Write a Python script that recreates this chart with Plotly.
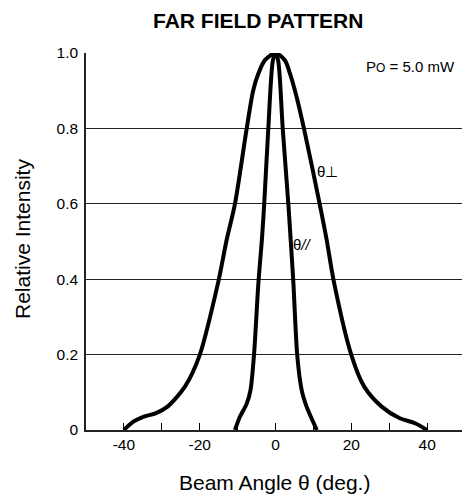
import plotly.graph_objects as go

# Data
perp_angle = [-40, -37.5, -34.9, -31.5, -28.5, -23.9, -20.1, -15.1, -12.9, -10.7, -7.6, -5.9, -4.5, -2.8,
              0, 2.5, 3.8, 5.4, 7.5, 11.7, 13.5, 15.4, 20.1, 23.4, 28.0, 32.8, 36.8, 40]
perp_int = [0, 0.022, 0.035, 0.045, 0.062, 0.115, 0.196, 0.393, 0.504, 0.6, 0.8, 0.9, 0.946, 0.981,
            1.0, 0.98, 0.946, 0.89, 0.8, 0.597, 0.504, 0.393, 0.196, 0.115, 0.062, 0.031, 0.018, 0]

para_angle = [-10.7, -9.4, -7.6, -6.6, -5.7, -4.5, -3.6, -3.0, -1.9, -0.7, 0, 0.7, 1.9, 3.4, 4.0, 4.7,
              5.75, 6.9, 8.2, 9.5, 10.9]
para_int = [0, 0.035, 0.07, 0.106, 0.196, 0.393, 0.504, 0.597, 0.8, 0.98, 1.0, 0.98, 0.8, 0.597, 0.504,
            0.393, 0.196, 0.106, 0.062, 0.031, 0]

x_tickvals = [-40, -30, -20, -10, 0, 10, 20, 30, 40]
x_ticktext = ["-40", "", "-20", "", "0", "", "20", "", "40"]
y_tickvals = [0, 0.2, 0.4, 0.6, 0.8, 1.0]
y_ticktext = ["0", "0.2", "0.4", "0.6", "0.8", "1.0"]

FONT = "Liberation Sans, Arial, sans-serif"
L, T, B, W, H = 86, 53, 70, 462, 500
PW, PH = W - L, H - T - B

fig = go.Figure()
fig.add_trace(go.Scatter(x=perp_angle, y=perp_int, mode="lines",
                         line=dict(color="black", width=4, shape="spline", smoothing=0.8),
                         showlegend=False, hoverinfo="skip"))
fig.add_trace(go.Scatter(x=para_angle, y=para_int, mode="lines",
                         line=dict(color="black", width=4, shape="spline", smoothing=0.8),
                         showlegend=False, hoverinfo="skip"))

fig.update_layout(
    width=W, height=H,
    margin=dict(l=L, r=0, t=T, b=B),
    paper_bgcolor="white", plot_bgcolor="white",
    font=dict(family=FONT, color="black"),
    showlegend=False,
    xaxis=dict(range=[-50, 49.2], tickmode="array", tickvals=x_tickvals, ticktext=x_ticktext,
               ticks="inside", ticklen=7, tickwidth=1.2, tickcolor="black",
               showline=True, linecolor="#222", linewidth=1.5, showgrid=False, zeroline=False,
               tickfont=dict(size=15.5), fixedrange=True),
    yaxis=dict(range=[0, 1.0], tickmode="array", tickvals=y_tickvals, ticktext=y_ticktext,
               ticks="", showline=True, linecolor="#222", linewidth=1.5,
               showgrid=True, gridcolor="#222", gridwidth=1, zeroline=False,
               tickfont=dict(size=15.5), ticklabelstandoff=3, fixedrange=True),
)

def px(x):
    return (x - L) / PW

def py(y):
    return (H - B - y) / PH

fig.add_annotation(text="<b>FAR FIELD PATTERN</b>", xref="paper", yref="paper",
                   x=px(258), y=py(20), xanchor="center", yanchor="middle",
                   showarrow=False, font=dict(size=21))
fig.add_annotation(text="Beam Angle θ (deg.)", xref="paper", yref="paper",
                   x=px(274), y=py(482), xanchor="center", yanchor="middle",
                   showarrow=False, font=dict(size=21))
fig.add_annotation(text="Relative Intensity", xref="paper", yref="paper", textangle=-90,
                   x=px(22), y=py(239), xanchor="center", yanchor="middle",
                   showarrow=False, font=dict(size=21))
fig.add_annotation(text="P<span style='font-size:12px'>O</span> = 5.0 mW", x=23.4, y=0.963,
                   xanchor="left", yanchor="middle", showarrow=False, font=dict(size=15))
fig.add_annotation(text="θ⊥", x=13.8, y=0.687, xanchor="center", yanchor="middle",
                   showarrow=False, font=dict(size=15))
fig.add_annotation(text="θ<i>//</i>", x=7.2, y=0.493, xanchor="center", yanchor="middle",
                   showarrow=False, font=dict(size=15))

fig.write_html("out.html")
